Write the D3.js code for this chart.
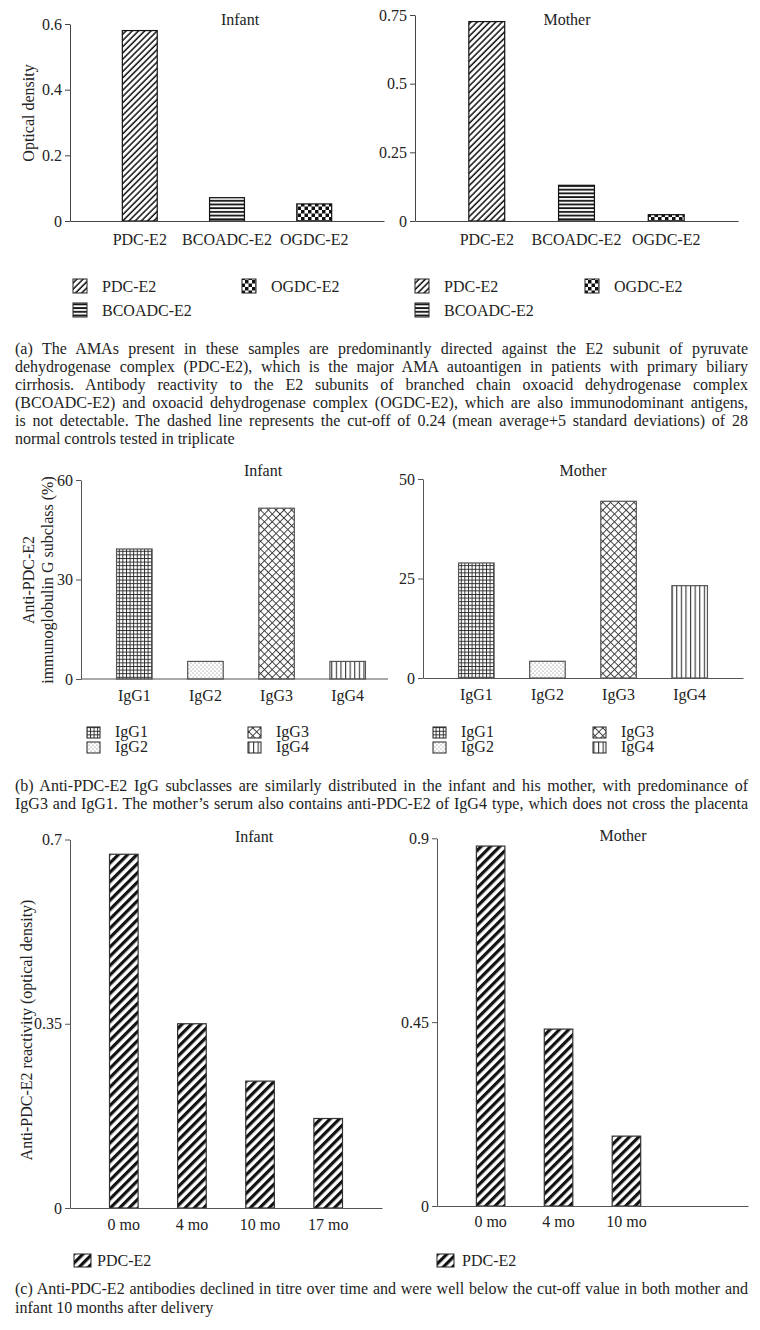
<!DOCTYPE html>
<html>
<head>
<meta charset="utf-8">
<script src="https://cdn.jsdelivr.net/npm/d3@7"></script>
<style>
  body { margin: 0; background: #fff; }
  text { font-family: "Liberation Serif", "DejaVu Serif", serif; fill: #222; }
  .axis text { font-size: 16px; font-family: "Liberation Serif", serif; fill: #222; }
  .lbl { font-size: 16px; }
  .cap { font-size: 16px; }
</style>
</head>
<body>
<svg id="fig" width="760" height="1330"></svg>
<script>
(function() {

    // (a) antigens
    var antigens = ["PDC-E2", "BCOADC-E2", "OGDC-E2"];
    var infantAntigenOD = [0.58, 0.071, 0.052];
    var motherAntigenOD = [0.726, 0.13, 0.023];
    var ticksAInfant = [0, 0.2, 0.4, 0.6];
    var ticksAMother = [0, 0.25, 0.5, 0.75];

    // (b) IgG subclasses
    var subclasses = ["IgG1", "IgG2", "IgG3", "IgG4"];
    var infantSubclassPct = [39.2, 5.3, 51.5, 5.3];
    var motherSubclassPct = [28.9, 4.2, 44.4, 23.2];
    var ticksBInfant = [0, 30, 60];
    var ticksBMother = [0, 25, 50];

    // (c) time course
    var timepoints = ["0 mo", "4 mo", "10 mo", "17 mo"];
    var infantTimeOD = [0.672, 0.35, 0.241, 0.17];
    var motherTimeOD = [0.881, 0.433, 0.171];
    var ticksCInfant = [0, 0.35, 0.7];
    var ticksCMother = [0, 0.45, 0.9];

    var captionA = [
        "(a) The AMAs present in these samples are predominantly directed against the E2 subunit of pyruvate",
        "dehydrogenase complex (PDC-E2), which is the major AMA autoantigen in patients with primary biliary",
        "cirrhosis. Antibody reactivity to the E2 subunits of branched chain oxoacid dehydrogenase complex",
        "(BCOADC-E2) and oxoacid dehydrogenase complex (OGDC-E2), which are also immunodominant antigens,",
        "is not detectable. The dashed line represents the cut-off of 0.24 (mean average+5 standard deviations) of 28",
        "normal controls tested in triplicate"
    ];
    var captionB = [
        "(b) Anti-PDC-E2 IgG subclasses are similarly distributed in the infant and his mother, with predominance of",
        "IgG3 and IgG1. The mother\u2019s serum also contains anti-PDC-E2 of IgG4 type, which does not cross the placenta"
    ];
    var captionC = [
        "(c) Anti-PDC-E2 antibodies declined in titre over time and were well below the cut-off value in both mother and",
        "infant 10 months after delivery"
    ];

    var svg = d3.select("#fig");
    var defs = svg.append("defs");

    /* hatch patterns */
    function pattern(id, w, h, rot, draw) {
        var p = defs.append("pattern").attr("id", id)
            .attr("patternUnits", "userSpaceOnUse")
            .attr("width", w).attr("height", h);
        if (rot) p.attr("patternTransform", "rotate(" + rot + ")");
        p.append("rect").attr("width", w).attr("height", h).attr("fill", "#fff");
        draw(p, w, h);
    }

    pattern("diagA", 4.4, 4.4, 45, function(p, w, h) {
        p.append("line").attr("x1", 1).attr("y1", 0).attr("x2", 1).attr("y2", h)
            .attr("stroke", "#111").attr("stroke-width", 1.5);
    });
    pattern("horiz", 4, 3.7, 0, function(p, w, h) {
        p.append("line").attr("x1", 0).attr("y1", 1).attr("x2", w).attr("y2", 1)
            .attr("stroke", "#111").attr("stroke-width", 1.8);
    });
    pattern("checker", 7, 7, 0, function(p) {
        p.append("rect").attr("width", 3.5).attr("height", 3.5).attr("fill", "#111");
        p.append("rect").attr("x", 3.5).attr("y", 3.5).attr("width", 3.5).attr("height", 3.5).attr("fill", "#111");
    });
    pattern("grid", 3.6, 3.6, 0, function(p, w, h) {
        p.append("path").attr("d", "M0.5,0V" + h + "M0," + 0.5 + "H" + w)
            .attr("stroke", "#222").attr("stroke-width", 0.9).attr("fill", "none");
    });
    pattern("dots", 4, 4, 0, function(p) {
        p.append("circle").attr("cx", 1).attr("cy", 1).attr("r", 0.6).attr("fill", "#777");
        p.append("circle").attr("cx", 3).attr("cy", 3).attr("r", 0.6).attr("fill", "#777");
    });
    pattern("cross", 5.5, 5.5, 45, function(p, w, h) {
        p.append("path").attr("d", "M0.5,0V" + h + "M0,0.5H" + w)
            .attr("stroke", "#333").attr("stroke-width", 0.9).attr("fill", "none");
    });
    pattern("vert", 4.6, 4, 0, function(p, w, h) {
        p.append("line").attr("x1", 0.6).attr("y1", 0).attr("x2", 0.6).attr("y2", h)
            .attr("stroke", "#222").attr("stroke-width", 1);
    });
    pattern("diagC", 6.6, 6.6, 45, function(p, w, h) {
        p.append("line").attr("x1", 1.6).attr("y1", 0).attr("x2", 1.6).attr("y2", h)
            .attr("stroke", "#111").attr("stroke-width", 3.2);
    });

    function fmt(d) { return String(d); }

    function drawPanel(p) {
        var x = d3.scaleBand().domain(p.cats).range([p.left, p.right]).padding(p.pad);
        var y = d3.scaleLinear().domain([0, p.ticks[p.ticks.length - 1]]).range([p.base, p.top]);

        svg.selectAll(null)
            .data(p.values)
            .enter().append("rect")
            .attr("x", function(d, i) { return x(p.cats[i]); })
            .attr("y", function(d) { return y(d); })
            .attr("width", x.bandwidth())
            .attr("height", function(d) { return p.base - y(d); })
            .attr("fill", function(d, i) { return "url(#" + p.fills[i] + ")"; })
            .attr("stroke", p.barStroke)
            .attr("stroke-width", 1.2);

        svg.append("g").attr("class", "axis")
            .attr("transform", "translate(" + p.left + ",0)")
            .style("color", p.axisColor)
            .call(d3.axisLeft(y).tickValues(p.ticks).tickSize(5).tickSizeOuter(0)
                .tickPadding(3).tickFormat(fmt));

        var xa = svg.append("g").attr("class", "axis")
            .attr("transform", "translate(0," + p.base + ")")
            .style("color", p.axisColor)
            .call(d3.axisBottom(x).tickSize(0).tickSizeOuter(0).tickPadding(p.labelPad)
                .tickFormat(function(d, i) { return i < p.values.length ? d : ""; }));
        if (p.axisEnd) xa.select(".domain").attr("d", "M" + p.left + ",0H" + p.axisEnd);

        svg.append("text").attr("class", "lbl")
            .attr("x", p.titleX).attr("y", p.titleY)
            .attr("text-anchor", "middle")
            .text(p.title);
    }

    function legend(items, fills, cols, swW, swH, rowH, textDx) {
        items.forEach(function(name, i) {
            var c = cols[i];
            svg.append("rect")
                .attr("x", c[0]).attr("y", c[1] - swH + 1)
                .attr("width", swW).attr("height", swH)
                .attr("fill", "url(#" + fills[i] + ")")
                .attr("stroke", "#222").attr("stroke-width", 1);
            svg.append("text").attr("class", "lbl")
                .attr("x", c[0] + textDx).attr("y", c[1])
                .text(name);
        });
    }

    function yLabel(lines, x, cy, dx) {
        lines.forEach(function(t, i) {
            svg.append("text").attr("class", "lbl")
                .attr("transform", "translate(" + (x + i * dx) + "," + cy + ") rotate(-90)")
                .attr("text-anchor", "middle")
                .attr("dy", "0.35em")
                .text(t);
        });
    }

    function caption(lines, y0, lh, justifyAll) {
        lines.forEach(function(line, i) {
            var t = svg.append("text").attr("class", "cap")
                .attr("x", 15).attr("y", y0 + i * lh)
                .text(line);
            if (i < lines.length - 1 || justifyAll) {
                var w = t.node().getComputedTextLength();
                var n = line.split(" ").length - 1;
                t.attr("word-spacing", ((733 - w) / n) + "px");
            }
        });
    }

    /* ---- (a) ---- */
    var fillsA = ["diagA", "horiz", "checker"];
    drawPanel({ cats: antigens, values: infantAntigenOD, ticks: ticksAInfant, fills: fillsA,
        left: 70, right: 384, base: 221, top: 24, pad: 0.6, labelPad: 13,
        barStroke: "#111", axisColor: "#444", title: "Infant", titleX: 240, titleY: 25 });
    drawPanel({ cats: antigens, values: motherAntigenOD, ticks: ticksAMother, fills: fillsA,
        left: 415, right: 738, base: 221, top: 15, pad: 0.6, labelPad: 13,
        barStroke: "#111", axisColor: "#444", title: "Mother", titleX: 567, titleY: 25 });
    yLabel(["Optical density"], 28, 113, 0);
    legend(antigens, fillsA, [[73, 292], [73, 316], [242, 292]], 14, 14, 24, 29);
    legend(antigens, fillsA, [[415, 292], [415, 316], [585, 292]], 14, 14, 24, 29);
    caption(captionA, 354, 18, false);

    /* ---- (b) ---- */
    var fillsB = ["grid", "dots", "cross", "vert"];
    drawPanel({ cats: subclasses, values: infantSubclassPct, ticks: ticksBInfant, fills: fillsB,
        left: 81, right: 401, axisEnd: 388, base: 679, top: 480, pad: 0.5, labelPad: 11,
        barStroke: "#555", axisColor: "#555", title: "Infant", titleX: 263, titleY: 476 });
    drawPanel({ cats: subclasses, values: motherSubclassPct, ticks: ticksBMother, fills: fillsB,
        left: 423, right: 743, base: 678, top: 479, pad: 0.5, labelPad: 11,
        barStroke: "#555", axisColor: "#555", title: "Mother", titleX: 583, titleY: 476 });
    yLabel(["Anti-PDC-E2", "immunoglobulin G subclass (%)"], 28, 580, 19);
    legend(subclasses, fillsB, [[87, 737], [87, 752], [248, 737], [248, 752]], 13, 11, 15, 28);
    legend(subclasses, fillsB, [[433, 737], [433, 752], [593, 737], [593, 752]], 13, 11, 15, 28);
    caption(captionB, 791, 18, true);

    /* ---- (c) ---- */
    var fillsC = ["diagC", "diagC", "diagC", "diagC"];
    drawPanel({ cats: timepoints, values: infantTimeOD, ticks: ticksCInfant, fills: fillsC,
        left: 70, right: 382, base: 1208, top: 839.5, pad: 0.58, labelPad: 11,
        barStroke: "#333", axisColor: "#555", title: "Infant", titleX: 254, titleY: 842 });
    drawPanel({ cats: timepoints, values: motherTimeOD, ticks: ticksCMother, fills: fillsC,
        left: 437, right: 748, base: 1206, top: 838.3, pad: 0.58, labelPad: 10,
        barStroke: "#333", axisColor: "#555", title: "Mother", titleX: 623, titleY: 841 });
    yLabel(["Anti-PDC-E2 reactivity (optical density)"], 26, 1030, 0);
    legend(["PDC-E2"], ["diagC"], [[74, 1266]], 17, 13, 0, 23);
    legend(["PDC-E2"], ["diagC"], [[437, 1266]], 17, 13, 0, 25);
    caption(captionC, 1294, 19, false);

})();
</script>
</body>
</html>
